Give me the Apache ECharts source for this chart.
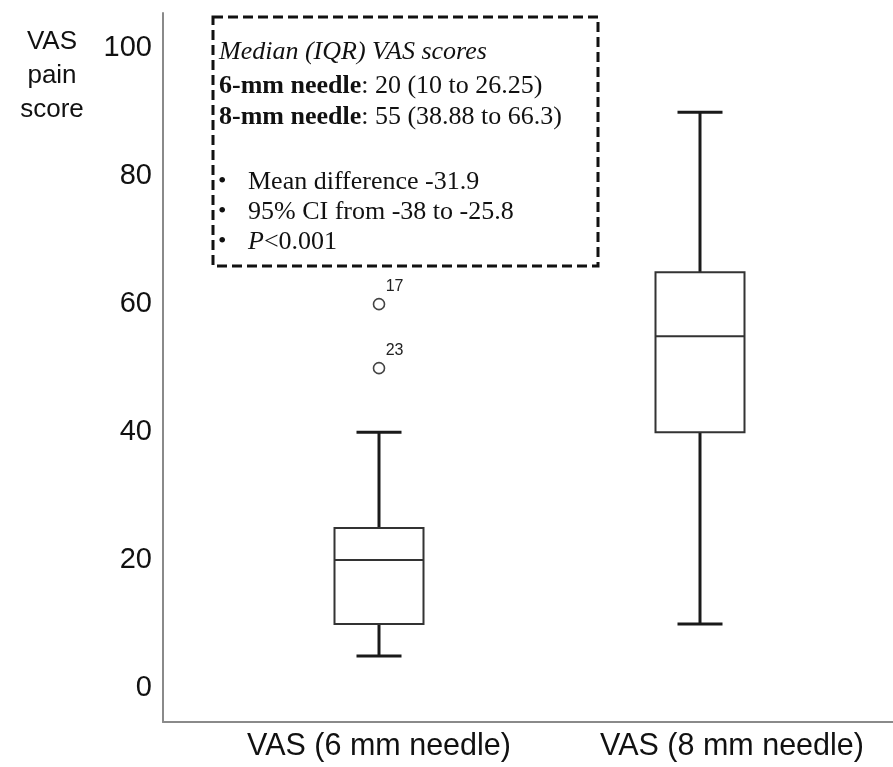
<!DOCTYPE html>
<html>
<head>
<meta charset="utf-8">
<script src="https://cdn.jsdelivr.net/npm/echarts@6/dist/echarts.min.js"></script>
<style>
  html, body { margin: 0; padding: 0; background: #fff; }
  #chart { width: 893px; height: 767px; }
</style>
</head>
<body>
<div id="chart"></div>
<script>
  // categories and five-number summaries [min, Q1, median, Q3, max]
  const categories = ['VAS (6 mm needle)', 'VAS (8 mm needle)'];
  const boxStats = [
    [5, 10, 20, 25, 40],
    [10, 40, 55, 65, 90]
  ];
  // outliers: [category index, value, case number]
  const outliers = [
    [0, 60, '17'],
    [0, 50, '23']
  ];
  const yTicks = [0, 20, 40, 60, 80, 100];

  const noteLines = [
    '{i|Median (IQR) VAS scores}',
    '{b|6-mm needle}{r|: 20 (10 to 26.25)}',
    '{b|8-mm needle}{r|: 55 (38.88 to 66.3)}'
  ];
  const noteBullets = [
    '{r|Mean difference -31.9}',
    '{r|95% CI from -38 to -25.8}',
    '{i|P}{r|<0.001}'
  ];

  const chart = echarts.init(document.getElementById('chart'));

  const serif = '"Liberation Serif", "Times New Roman", serif';
  const sans = '"Liberation Sans", Arial, sans-serif';
  const noteRich = {
    i: { fontFamily: serif, fontSize: 26, fontStyle: 'italic', fill: '#111' },
    b: { fontFamily: serif, fontSize: 26, fontWeight: 'bold', fill: '#111' },
    r: { fontFamily: serif, fontSize: 26, fill: '#111' }
  };

  const yMin = -5.3, yMax = 105.5;

  const graphics = [
    {
      type: 'text',
      style: {
        text: 'VAS\npain\nscore', x: 52, y: 25, align: 'center', verticalAlign: 'top',
        fontFamily: sans, fontSize: 26, lineHeight: 34, fill: '#111'
      },
      z: 10
    },
    {
      type: 'rect',
      shape: { x: 213, y: 17, width: 385, height: 249 },
      style: { fill: '#fff', stroke: '#111', lineWidth: 3, lineDash: [10, 5] },
      z: 10
    }
  ];
  const noteY = [52, 86, 117];
  noteLines.forEach(function (t, i) {
    graphics.push({
      type: 'text',
      style: { text: t, x: 219, y: noteY[i], verticalAlign: 'middle', rich: noteRich, fontFamily: serif, fontSize: 26 },
      z: 11
    });
  });
  const bulletY = [182, 212, 242];
  noteBullets.forEach(function (t, i) {
    graphics.push({
      type: 'text',
      style: { text: '•', x: 218, y: bulletY[i], verticalAlign: 'middle', fontFamily: serif, fontSize: 24, fill: '#111' },
      z: 11
    });
    graphics.push({
      type: 'text',
      style: { text: t, x: 248, y: bulletY[i], verticalAlign: 'middle', rich: noteRich, fontFamily: serif, fontSize: 26 },
      z: 11
    });
  });

  const option = {
    backgroundColor: '#fff',
    animation: false,
    grid: [
      { left: 163, right: 0, top: 13, bottom: 45 },
      { left: 218.5, right: 32.5, top: 13, bottom: 45 }
    ],
    xAxis: [
      {
        gridIndex: 0, type: 'value', min: 0, max: 1,
        axisLine: { show: true, onZero: false, lineStyle: { color: '#8a8a8a', width: 2 } },
        axisTick: { show: false }, axisLabel: { show: false }, splitLine: { show: false }
      },
      {
        gridIndex: 1, type: 'category', data: categories,
        axisLine: { show: false, onZero: false }, axisTick: { show: false }, splitLine: { show: false },
        axisLabel: {
          margin: 9,
          formatter: function (v, i) { return i === 1 ? '{s|' + v + '}' : '{n|' + v + '}'; },
          rich: {
            n: { fontFamily: sans, fontSize: 30.5, color: '#111' },
            s: { fontFamily: sans, fontSize: 30.5, color: '#111', padding: [0, 0, 0, 64] }
          }
        }
      }
    ],
    yAxis: [
      {
        gridIndex: 0, type: 'value', min: yMin, max: yMax,
        axisLine: { show: true, onZero: false, lineStyle: { color: '#8a8a8a', width: 2 } },
        axisTick: { show: false }, splitLine: { show: false },
        axisLabel: {
          customValues: yTicks, margin: 11, padding: [8, 0, 0, 0],
          fontFamily: sans, fontSize: 29, color: '#111'
        }
      },
      {
        gridIndex: 1, type: 'value', min: yMin, max: yMax, show: false
      }
    ],
    graphic: graphics,
    series: [
      {
        type: 'custom',
        xAxisIndex: 1, yAxisIndex: 1,
        data: boxStats.map(function (s, i) { return [i].concat(s); }),
        encode: { x: 0, y: [1, 2, 3, 4, 5] },
        renderItem: function (params, api) {
          const idx = api.value(0);
          const x = api.coord([idx, 0])[0];
          const py = function (d) { return api.coord([idx, api.value(d)])[1]; };
          const lo = py(1), q1 = py(2), med = py(3), q3 = py(4), hi = py(5);
          const hw = 44.5, cw = 22.5;
          const wStyle = { stroke: '#1a1a1a', lineWidth: 3 };
          const bStyle = { stroke: '#333', lineWidth: 2 };
          return {
            type: 'group',
            children: [
              { type: 'line', shape: { x1: x, y1: hi, x2: x, y2: q3 }, style: wStyle },
              { type: 'line', shape: { x1: x, y1: q1, x2: x, y2: lo }, style: wStyle },
              { type: 'line', shape: { x1: x - cw, y1: hi, x2: x + cw, y2: hi }, style: wStyle },
              { type: 'line', shape: { x1: x - cw, y1: lo, x2: x + cw, y2: lo }, style: wStyle },
              { type: 'rect', shape: { x: x - hw, y: q3, width: hw * 2, height: q1 - q3 }, style: { fill: '#fff', stroke: '#333', lineWidth: 2 } },
              { type: 'line', shape: { x1: x - hw, y1: med, x2: x + hw, y2: med }, style: bStyle }
            ]
          };
        }
      },
      {
        type: 'scatter',
        xAxisIndex: 1, yAxisIndex: 1,
        symbol: 'circle', symbolSize: 11,
        itemStyle: { color: '#fff', borderColor: '#444', borderWidth: 1.6, opacity: 1 },
        data: outliers.map(function (o) { return { value: [o[0], o[1]], name: o[2] }; }),
        label: {
          show: true, position: [13, -19], align: 'left', verticalAlign: 'top',
          formatter: '{b}', fontFamily: sans, fontSize: 16, color: '#222'
        }
      }
    ]
  };

  chart.setOption(option);

  window.addEventListener('resize', function () {
    chart.resize();
  });
</script>
</body>
</html>
